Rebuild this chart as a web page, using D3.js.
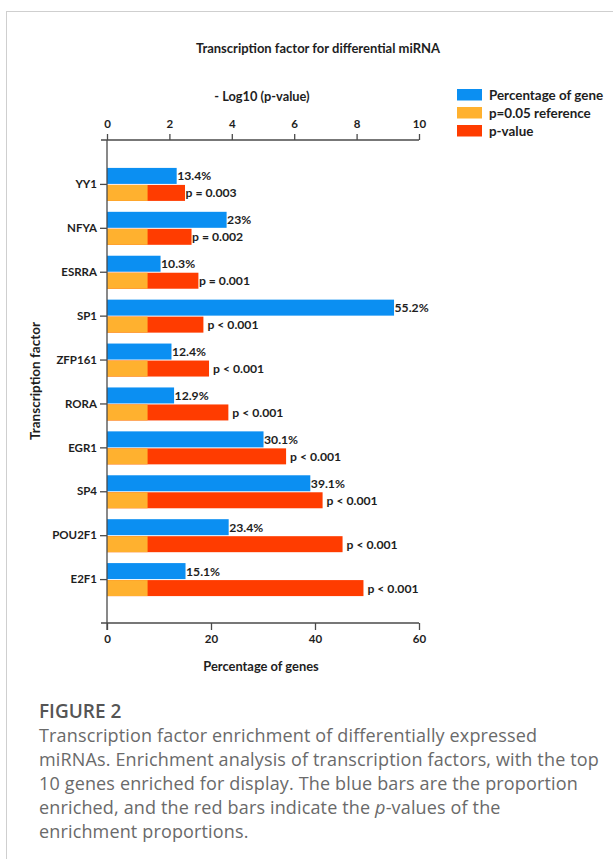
<!DOCTYPE html>
<html>
<head>
<meta charset="utf-8">
<script src="https://cdn.jsdelivr.net/npm/d3@7"></script>
<style>
  body { margin: 0; background: #fff; }
  .chart text.lbl { font-family: Lato, "DejaVu Sans", sans-serif; font-weight: bold; fill: #1e1e1e; }
  .chart text.caption { font-family: "Open Sans", sans-serif; font-weight: normal; }
</style>
</head>
<body>
<div class="chart"></div>
<script>
// chart values
const genes = ["YY1", "NFYA", "ESRRA", "SP1", "ZFP161", "RORA", "EGR1", "SP4", "POU2F1", "E2F1"];
const pctGenes = [13.4, 23, 10.3, 55.2, 12.4, 12.9, 30.1, 39.1, 23.4, 15.1];
const pctLabels = ["13.4%", "23%", "10.3%", "55.2%", "12.4%", "12.9%", "30.1%", "39.1%", "23.4%", "15.1%"];
const negLogP = [2.5, 2.71, 2.93, 3.09, 3.27, 3.89, 5.74, 6.91, 7.55, 8.22];
const pLabels = ["p = 0.003", "p = 0.002", "p = 0.001", "p < 0.001", "p < 0.001",
                 "p < 0.001", "p < 0.001", "p < 0.001", "p < 0.001", "p < 0.001"];
const refP = 0.05;
const logTicks = [0, 2, 4, 6, 8, 10];
const pctTicks = [0, 20, 40, 60];
const legendItems = ["Percentage of gene", "p=0.05 reference", "p-value"];
const captionLines = [
  "Transcription factor enrichment of differentially expressed",
  "miRNAs. Enrichment analysis of transcription factors, with the top",
  "10 genes enriched for display. The blue bars are the proportion",
  "enriched, and the red bars indicate the |p|-values of the",
  "enrichment proportions."
];

let W = 613, H = 859;
let blue = "#0b8ff2", orange = "#ffb12f", red = "#ff3c00", axisCol = "#4a4a4a";

let svg = d3.select(".chart").append("svg")
    .attr("width", W).attr("height", H);

// frame of the figure panel
svg.append("line").attr("x1", 6.5).attr("x2", 6.5).attr("y1", 11).attr("y2", H)
    .attr("stroke", "#cfcfcf");
svg.append("line").attr("x1", 6).attr("x2", W).attr("y1", 11.5).attr("y2", 11.5)
    .attr("stroke", "#cfcfcf");

let x0 = 107, x1 = 419, yTop = 140, yBot = 623;

let xPct = d3.scaleLinear().domain([0, 60]).range([x0, x1]);
let xLog = d3.scaleLinear().domain([0, 10]).range([x0, x1]);
let y = d3.scalePoint().domain(genes).range([yTop, yBot]).padding(1);

let data = genes.map((g, i) => ({
    gene: g, pct: pctGenes[i], pctLabel: pctLabels[i], lp: negLogP[i], pLabel: pLabels[i]
}));

let bh = 16;

// red p-value bars, orange reference on top
svg.selectAll("rect.pval").data(data).enter().append("rect")
    .attr("class", "pval")
    .attr("x", xLog(0)).attr("y", d => y(d.gene) + 1)
    .attr("width", d => xLog(d.lp) - xLog(0)).attr("height", bh)
    .attr("fill", red);

svg.selectAll("rect.ref").data(data).enter().append("rect")
    .attr("class", "ref")
    .attr("x", xLog(0)).attr("y", d => y(d.gene) + 1)
    .attr("width", xLog(-Math.log10(refP)) - xLog(0)).attr("height", bh)
    .attr("fill", orange);

svg.selectAll("rect.pct").data(data).enter().append("rect")
    .attr("class", "pct")
    .attr("x", xPct(0)).attr("y", d => y(d.gene) - bh)
    .attr("width", d => xPct(d.pct) - xPct(0)).attr("height", bh)
    .attr("fill", blue);

// value labels
svg.selectAll("text.pctl").data(data).enter().append("text")
    .attr("class", "lbl")
    .attr("x", d => xPct(d.pct) + 0.5).attr("y", d => y(d.gene) - bh / 2)
    .attr("dominant-baseline", "central")
    .style("font-size", "12.2px")
    .text(d => d.pctLabel);

svg.selectAll("text.pl").data(data).enter().append("text")
    .attr("class", "lbl")
    .attr("x", d => xLog(d.lp) + (d.pLabel.includes("<") ? 4 : 0.5))
    .attr("y", d => y(d.gene) + 1 + bh / 2)
    .attr("dominant-baseline", "central")
    .style("font-size", "12.2px")
    .text(d => d.pLabel);

// axes
let topAxis = svg.append("g")
    .attr("transform", `translate(0,${yTop})`)
    .call(d3.axisTop(xLog).tickValues(logTicks).tickSize(6).tickPadding(6));
let botAxis = svg.append("g")
    .attr("transform", `translate(0,${yBot})`)
    .call(d3.axisBottom(xPct).tickValues(pctTicks).tickSize(7).tickPadding(5));
let leftAxis = svg.append("g")
    .attr("transform", `translate(${x0},0)`)
    .call(d3.axisLeft(y).tickSize(7).tickPadding(3));

[topAxis, botAxis, leftAxis].forEach(a => {
    a.select(".domain").remove();
    a.selectAll(".tick line").attr("stroke", axisCol).attr("stroke-width", 1.3);
    a.selectAll("text").attr("class", "lbl").style("font-size", "11.5px");
});

svg.append("line").attr("x1", x0 - 6).attr("x2", x1).attr("y1", yTop).attr("y2", yTop)
    .attr("stroke", axisCol).attr("stroke-width", 1.3);
svg.append("line").attr("x1", x0 - 6).attr("x2", x1).attr("y1", yBot).attr("y2", yBot)
    .attr("stroke", axisCol).attr("stroke-width", 1.3);
svg.append("line").attr("x1", x0).attr("x2", x0).attr("y1", yTop).attr("y2", yBot + 7)
    .attr("stroke", axisCol).attr("stroke-width", 1.3);

// titles
svg.append("text").attr("class", "lbl").attr("x", 318).attr("y", 48)
    .attr("text-anchor", "middle").attr("dominant-baseline", "central")
    .style("font-size", "13px").text("Transcription factor for differential miRNA");
svg.append("text").attr("class", "lbl").attr("x", 262).attr("y", 96)
    .attr("text-anchor", "middle").attr("dominant-baseline", "central")
    .style("font-size", "12.8px").text("- Log10 (p-value)");
svg.append("text").attr("class", "lbl").attr("x", 261).attr("y", 666)
    .attr("text-anchor", "middle").attr("dominant-baseline", "central")
    .style("font-size", "12.9px").text("Percentage of genes");
svg.append("text").attr("class", "lbl")
    .attr("transform", "translate(35,381) rotate(-90)")
    .attr("text-anchor", "middle").attr("dominant-baseline", "central")
    .style("font-size", "13.5px").text("Transcription factor");

// legend
let legColors = [blue, orange, red];
let legend = svg.append("g");
legend.selectAll("rect").data(legendItems).enter().append("rect")
    .attr("x", 457).attr("y", (d, i) => 89 + i * 18)
    .attr("width", 25).attr("height", 11.5)
    .attr("fill", (d, i) => legColors[i]);
legend.selectAll("text").data(legendItems).enter().append("text")
    .attr("class", "lbl")
    .attr("x", 489).attr("y", (d, i) => 95 + i * 18)
    .attr("dominant-baseline", "central")
    .style("font-size", "13.4px")
    .text(d => d);

// caption
svg.append("text").attr("class", "caption")
    .attr("x", 39).attr("y", 718)
    .style("font-size", "19px").style("font-weight", "600").style("fill", "#555")
    .text("FIGURE 2");

let cap = svg.append("text").attr("class", "caption")
    .style("font-size", "18px").style("letter-spacing", "0.15px").style("fill", "#6a6a6a");
captionLines.forEach((line, i) => {
    let t = cap.append("tspan").attr("x", 39).attr("y", 742 + i * 24);
    line.split("|").forEach((part, j) => {
        let s = t.append("tspan").text(part);
        if (j % 2 === 1) s.style("font-style", "italic");
    });
});
</script>
</body>
</html>
